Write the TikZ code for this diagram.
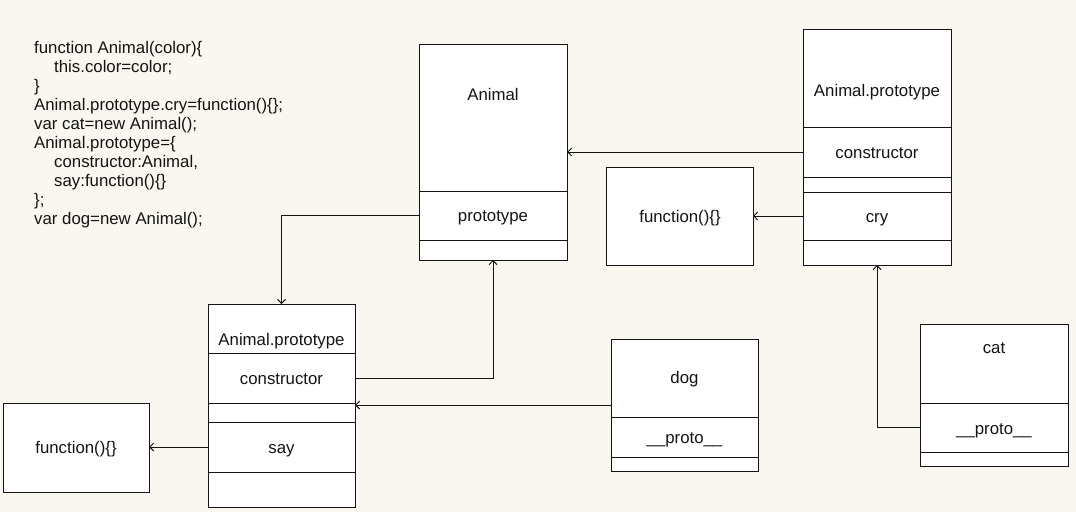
\documentclass[tikz,border=0pt]{standalone}
\usepackage{fontspec}
\setmainfont{Liberation Sans}
\usetikzlibrary{arrows.meta,calc}
\definecolor{bgcol}{RGB}{250,247,240}
\definecolor{ink}{RGB}{20,20,20}
\newcommand\diafs{\fontsize{16.8}{19}\selectfont}
\tikzset{
  cell/.style={draw=ink, fill=white, line width=1pt, inner sep=0pt, outer sep=0pt, anchor=north west},
  txt/.style={font=\diafs, text=ink, inner sep=0pt, text height=12pt, text depth=0pt},
  codeline/.style={font=\diafs, text=ink, inner sep=0pt, anchor=base west},
  conn/.style={draw=ink, line width=1pt, -{Straight Barb[length=4pt,width=8pt]}}
}
\begin{document}
\begin{tikzpicture}[x=1pt,y=-1pt]
\fill[bgcol] (0,0) rectangle (1076,512);
\useasboundingbox (0,0) rectangle (1076,512);
% code
\node[codeline] (c1) at (34,53) {function Animal(color)\{};
\node[codeline] (c2) at (54,72) {this.color=color;};
\node[codeline] (c3) at (34,91) {\}};
\node[codeline] (c4) at (34,110) {Animal.prototype.cry=function()\{\};};
\node[codeline] (c5) at (34,129) {var cat=new Animal();};
\node[codeline] (c6) at (34,148) {Animal.prototype=\{};
\node[codeline] (c7) at (54,167) {constructor:Animal,};
\node[codeline] (c8) at (54,186) {say:function()\{\}};
\node[codeline] (c9) at (34,205) {\};};
\node[codeline] (c10) at (34,224) {var dog=new Animal();};
% Animal
\node[cell, minimum width=148pt, minimum height=147pt] (A1) at (419,44) {};
\node[cell, minimum width=148pt, minimum height=49pt] (A2) at (419,191) {};
\node[cell, minimum width=148pt, minimum height=20pt] (A3) at (419,240) {};
\node[txt] (tA1) at (493,94) {Animal};
\node[txt] (tA2) at (493,215.5) {prototype};
% right Animal.prototype
\node[cell, minimum width=148pt, minimum height=98pt] (P1) at (803,29) {};
\node[cell, minimum width=148pt, minimum height=50pt] (P2) at (803,127) {};
\node[cell, minimum width=148pt, minimum height=15pt] (P3) at (803,177) {};
\node[cell, minimum width=148pt, minimum height=48pt] (P4) at (803,192) {};
\node[cell, minimum width=148pt, minimum height=25pt] (P5) at (803,240) {};
\node[txt] (tP1) at (877,90) {Animal.prototype};
\node[txt] (tP2) at (877,152) {constructor};
\node[txt] (tP4) at (877,216) {cry};
% function box right
\node[cell, minimum width=147pt, minimum height=98pt] (F1) at (606,167) {};
\node[txt] (tF1) at (680,216) {function()\{\}};
% lower Animal.prototype
\node[cell, minimum width=147pt, minimum height=49pt] (Q1) at (208,304) {};
\node[cell, minimum width=147pt, minimum height=50pt] (Q2) at (208,353) {};
\node[cell, minimum width=147pt, minimum height=19pt] (Q3) at (208,403) {};
\node[cell, minimum width=147pt, minimum height=50pt] (Q4) at (208,422) {};
\node[cell, minimum width=147pt, minimum height=35pt] (Q5) at (208,472) {};
\node[txt] (tQ1) at (281.5,339) {Animal.prototype};
\node[txt] (tQ2) at (281.5,378) {constructor};
\node[txt] (tQ4) at (281.5,447) {say};
% function box left
\node[cell, minimum width=146pt, minimum height=89pt] (F2) at (3,403) {};
\node[txt] (tF2) at (76,447) {function()\{\}};
% dog
\node[cell, minimum width=147pt, minimum height=78pt] (D1) at (611,339) {};
\node[cell, minimum width=147pt, minimum height=40pt] (D2) at (611,417) {};
\node[cell, minimum width=147pt, minimum height=14pt] (D3) at (611,457) {};
\node[txt] (tD1) at (684.5,377) {dog};
\node[txt] (tD2) at (684.5,437) {\_\_proto\_\_};
% cat
\node[cell, minimum width=148pt, minimum height=79pt] (C1) at (920,324) {};
\node[cell, minimum width=148pt, minimum height=49pt] (C2) at (920,403) {};
\node[cell, minimum width=148pt, minimum height=14pt] (C3) at (920,452) {};
\node[txt] (tC1) at (994,347) {cat};
\node[txt] (tC2) at (994,428) {\_\_proto\_\_};
% connectors
\draw[conn] (P2.west) -- (P2.west -| A1.east);
\draw[conn] (P4.west) -- (P4.west -| F1.east);
\draw[conn] (A2.west) -| (Q1.north);
\draw[conn] (Q2.east) -| (A3.south);
\coordinate (dogout) at ([yshift=12pt]D1.south west);
\draw[conn] (dogout) -- (dogout -| Q3.east);
\draw[conn] (Q4.west) -- (Q4.west -| F2.east);
\draw[conn] (C2.west) -| (P5.south);
\end{tikzpicture}
\end{document}
